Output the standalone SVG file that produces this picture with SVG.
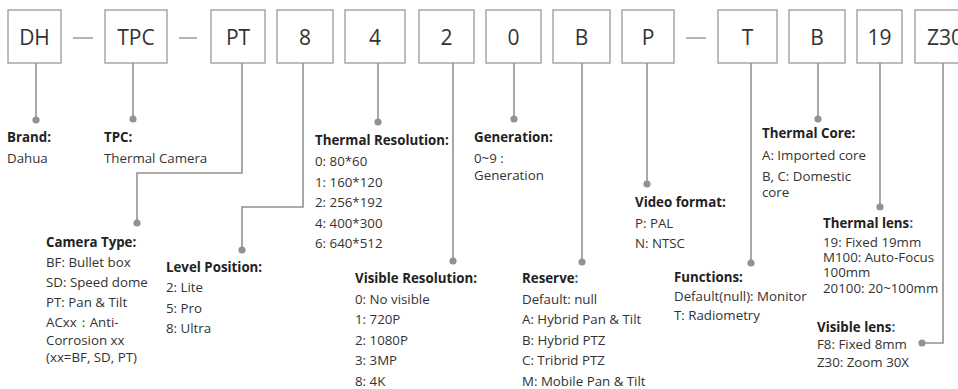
<svg xmlns="http://www.w3.org/2000/svg" width="958" height="389" viewBox="0 0 958 389">
<style>
.box rect{fill:#fff;stroke:#9a9a9a;stroke-width:1.3}
.box text{font-family:"Open Sans","Noto Sans",sans-serif;font-size:21px;fill:#333;text-anchor:middle}
.dash{stroke:#9a9a9a;stroke-width:1.5}
.conn path{fill:none;stroke:#929292;stroke-width:1.6}
.conn circle{fill:#929292}
.t{font-family:"Open Sans","Noto Sans",sans-serif;font-size:13.3px;fill:#333}
.h{font-weight:bold;fill:#222}
.blue{fill:#2a70c0}
</style>
<rect width="958" height="389" fill="#fff"/>
<g id="box-dh" class="box"><rect x="8" y="10" width="53" height="53"/><text x="34.5" y="44.5">DH</text></g>
<g id="box-tpc" class="box"><rect x="105" y="10" width="62" height="53"/><text x="136" y="44.5">TPC</text></g>
<g id="box-pt" class="box"><rect x="211" y="10" width="54" height="53"/><text x="238" y="44.5">PT</text></g>
<g id="box-8" class="box"><rect x="277" y="10" width="56" height="53"/><text x="305" y="44.5">8</text></g>
<g id="box-4" class="box"><rect x="345" y="10" width="60" height="53"/><text x="375" y="44.5">4</text></g>
<g id="box-2" class="box"><rect x="419" y="10" width="55" height="53"/><text x="446.5" y="44.5">2</text></g>
<g id="box-0" class="box"><rect x="486" y="10" width="55" height="53"/><text x="513.5" y="44.5">0</text></g>
<g id="box-b" class="box"><rect x="553" y="10" width="57" height="53"/><text x="581.5" y="44.5">B</text></g>
<g id="box-p" class="box"><rect x="622" y="10" width="52" height="53"/><text x="648" y="44.5">P</text></g>
<g id="box-t" class="box"><rect x="718" y="10" width="59" height="53"/><text x="747.5" y="44.5">T</text></g>
<g id="box-b2" class="box"><rect x="789" y="10" width="56" height="53"/><text x="817" y="44.5">B</text></g>
<g id="box-19" class="box"><rect x="857" y="10" width="45" height="53"/><text x="879.5" y="44.5">19</text></g>
<g id="box-z30" class="box"><rect x="915" y="10" width="60" height="53"/><text x="945" y="44.5">Z30</text></g>
<g id="dashes">
<line class="dash" x1="73" y1="38" x2="93" y2="38"/>
<line class="dash" x1="179" y1="38" x2="197" y2="38"/>
<line class="dash" x1="686" y1="38" x2="706" y2="38"/>
</g>
<g id="connectors" class="conn">
<path d="M36 63V120"/><circle cx="36" cy="120" r="3.6"/>
<path d="M133 63V119"/><circle cx="133" cy="119" r="3.6"/>
<path d="M242 63V173H137V223"/><circle cx="137" cy="223" r="3.6"/>
<path d="M303 63V207H242V250"/><circle cx="242" cy="250" r="3.6"/>
<path d="M378 63V122"/><circle cx="378" cy="122" r="3.6"/>
<path d="M453 63V261"/><circle cx="453" cy="261" r="3.6"/>
<path d="M514 63V119"/><circle cx="514" cy="119" r="3.6"/>
<path d="M582 63V262"/><circle cx="582" cy="262" r="3.6"/>
<path d="M647 63V184"/><circle cx="647" cy="184" r="3.6"/>
<path d="M751 63V263"/><circle cx="751" cy="263" r="3.6"/>
<path d="M818 63V119"/><circle cx="818" cy="119" r="3.6"/>
<path d="M880 63V207"/><circle cx="880" cy="207" r="3.6"/>
<path d="M943 63V343H922"/><circle cx="922" cy="343" r="3.6"/>
</g>
<g id="brand" class="t"><text x="7" y="142" class="h">Brand:</text><text x="7" y="163">Dahua</text></g>
<g id="tpc" class="t"><text x="104" y="142" class="h">TPC:</text><text x="104" y="163">Thermal Camera</text></g>
<g id="camtype" class="t"><text x="46" y="247" class="h">Camera Type:</text>
<text x="46" y="267">BF: Bullet box</text><text x="46" y="287">SD: Speed dome</text><text x="46" y="307">PT: Pan &amp; Tilt</text><text x="46" y="327">ACxx：Anti-</text><text x="46" y="345">Corrosion xx</text><text x="46" y="362">(xx=BF, SD, PT)</text></g>
<g id="level" class="t"><text x="166" y="272" class="h">Level Position:</text><text x="166" y="292">2: Lite</text><text x="166" y="313">5: Pro</text><text x="166" y="333">8: Ultra</text></g>
<g id="thermres" class="t"><text x="315" y="145" class="h">Thermal Resolution:</text><text x="315" y="166">0: 80*60</text><text x="315" y="187">1: 160*120</text><text x="315" y="207">2: 256*192</text><text x="315" y="228">4: 400*300</text><text x="315" y="248">6: 640*512</text></g>
<g id="visres" class="t"><text x="355" y="283" class="h">Visible Resolution:</text><text x="355" y="304">0: No visible</text><text x="355" y="324">1: 720P</text><text x="355" y="345">2: 1080P</text><text x="355" y="365">3: 3MP</text><text x="355" y="386">8: 4K</text></g>
<g id="generation" class="t"><text x="474" y="142" class="h">Generation:</text><text x="474" y="163">0~9 :</text><text x="474" y="180">Generation</text></g>
<g id="reserve" class="t"><text x="522" y="283" class="h">Reserve<tspan class="blue">:</tspan></text><text x="522" y="304">Default: null</text><text x="522" y="324">A: Hybrid Pan &amp; Tilt</text><text x="522" y="345">B: Hybrid  PTZ</text><text x="522" y="365">C: Tribrid  PTZ</text><text x="522" y="386">M: Mobile Pan &amp; Tilt</text></g>
<g id="video" class="t"><text x="635" y="207" class="h">Video format:</text><text x="635" y="228">P: PAL</text><text x="635" y="248">N: NTSC</text></g>
<g id="functions" class="t"><text x="674" y="282" class="h">Functions:</text><text x="674" y="301">Default(null): Monitor</text><text x="674" y="320">T: Radiometry</text></g>
<g id="core" class="t"><text x="762" y="138" class="h">Thermal Core:</text><text x="762" y="160">A: Imported core</text><text x="762" y="181">B, C: Domestic</text><text x="762" y="197">core</text></g>
<g id="tlens" class="t"><text x="823" y="228" class="h">Thermal lens<tspan class="blue">:</tspan></text><text x="823" y="247">19: Fixed 19mm</text><text x="823" y="262">M100: Auto-Focus</text><text x="823" y="277">100mm</text><text x="823" y="293">20100: 20~100mm</text></g>
<g id="vlens" class="t"><text x="817" y="332" class="h">Visible lens<tspan class="blue">:</tspan></text><text x="817" y="349">F8: Fixed 8mm</text><text x="817" y="367">Z30: Zoom 30X</text></g>
</svg>
